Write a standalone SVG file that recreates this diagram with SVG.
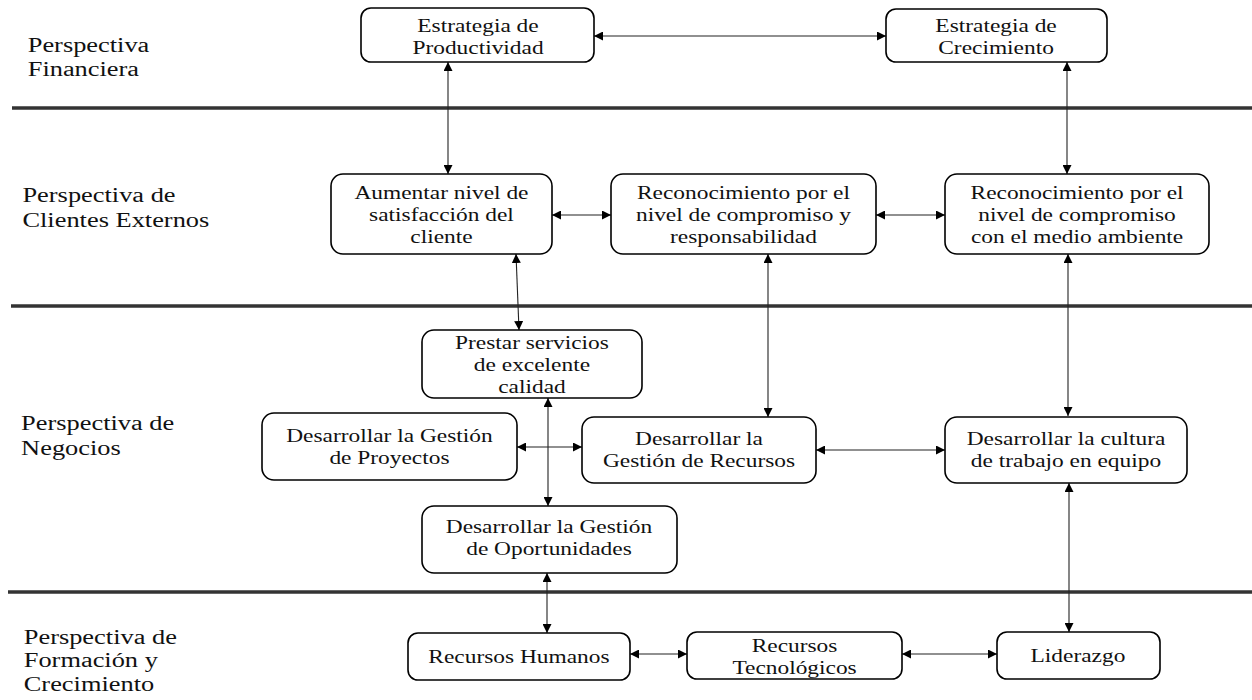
<svg xmlns="http://www.w3.org/2000/svg" width="1252" height="700" viewBox="0 0 1252 700">
<defs>
<marker id="ah" viewBox="0 0 10 10" refX="10" refY="5" markerWidth="9" markerHeight="9" markerUnits="userSpaceOnUse" orient="auto-start-reverse">
<path d="M0,0 L10,5 L0,10 z" fill="#000"/>
</marker>
<style>
.box{fill:#fff;stroke:#000;stroke-width:1.6}
.t{font-family:"Liberation Serif","Times New Roman",serif;font-size:18px;fill:#111;text-anchor:middle}
.lab{font-family:"Liberation Serif","Times New Roman",serif;font-size:20px;fill:#111}
.sep{stroke:#333;stroke-width:3.5}
.c{stroke:#222;stroke-width:1.1;fill:none;marker-start:url(#ah);marker-end:url(#ah)}
</style>
</defs>
<rect width="1252" height="700" fill="#fff"/>
<g id="separators">
<line class="sep" x1="12" y1="108" x2="1252" y2="108"/>
<line class="sep" x1="11" y1="306" x2="1252" y2="306"/>
<line class="sep" x1="8" y1="592" x2="1252" y2="592"/>
</g>
<g id="labels" transform="scale(1.32,1)">
<text class="lab" x="21"><tspan x="21" y="52">Perspectiva</tspan><tspan x="21" y="76">Financiera</tspan></text>
<text class="lab" x="17"><tspan x="17" y="202">Perspectiva de</tspan><tspan x="17" y="227">Clientes Externos</tspan></text>
<text class="lab" x="16"><tspan x="16" y="430">Perspectiva de</tspan><tspan x="16" y="455">Negocios</tspan></text>
<text class="lab" x="18"><tspan x="18" y="644">Perspectiva de</tspan><tspan x="18" y="667">Formación y</tspan><tspan x="18" y="691">Crecimiento</tspan></text>
</g>
<g id="connectors">
<line class="c" x1="594" y1="36" x2="886" y2="36"/>
<line class="c" x1="448" y1="62" x2="448" y2="174"/>
<line class="c" x1="1067" y1="62" x2="1067" y2="174"/>
<line class="c" x1="552" y1="215" x2="611" y2="215"/>
<line class="c" x1="876" y1="215" x2="945" y2="215"/>
<line class="c" x1="516" y1="254" x2="519" y2="330"/>
<line class="c" x1="768" y1="254" x2="768" y2="417"/>
<line class="c" x1="1068" y1="254" x2="1068" y2="416"/>
<line class="c" x1="548" y1="398" x2="548" y2="506"/>
<line class="c" x1="517" y1="447" x2="582" y2="447"/>
<line class="c" x1="816" y1="450" x2="945" y2="450"/>
<line class="c" x1="1069" y1="483" x2="1069" y2="632"/>
<line class="c" x1="547" y1="573" x2="547" y2="633"/>
<line class="c" x1="630" y1="654" x2="687" y2="654"/>
<line class="c" x1="902" y1="654" x2="997" y2="654"/>
</g>
<g id="n1"><rect class="box" x="361" y="8" width="233" height="54" rx="10"/>
<g transform="scale(1.3,1)"><text class="t"><tspan x="367.7" y="32">Estrategia de</tspan><tspan x="367.7" y="54">Productividad</tspan></text></g></g>
<g id="n2"><rect class="box" x="886" y="9" width="221" height="53" rx="10"/>
<g transform="scale(1.3,1)"><text class="t"><tspan x="766.2" y="32">Estrategia de</tspan><tspan x="766.2" y="54">Crecimiento</tspan></text></g></g>
<g id="n3"><rect class="box" x="331" y="174" width="221" height="80" rx="12"/>
<g transform="scale(1.3,1)"><text class="t"><tspan x="339.6" y="199">Aumentar nivel de</tspan><tspan x="339.6" y="221">satisfacción del</tspan><tspan x="339.6" y="243">cliente</tspan></text></g></g>
<g id="n4"><rect class="box" x="611" y="174" width="265" height="80" rx="12"/>
<g transform="scale(1.3,1)"><text class="t"><tspan x="571.9" y="199">Reconocimiento por el</tspan><tspan x="571.9" y="221">nivel de compromiso y</tspan><tspan x="571.9" y="243">responsabilidad</tspan></text></g></g>
<g id="n5"><rect class="box" x="945" y="174" width="264" height="80" rx="12"/>
<g transform="scale(1.3,1)"><text class="t"><tspan x="828.5" y="199">Reconocimiento por el</tspan><tspan x="828.5" y="221">nivel de compromiso</tspan><tspan x="828.5" y="243">con el medio ambiente</tspan></text></g></g>
<g id="n6"><rect class="box" x="422" y="330" width="220" height="68" rx="12"/>
<g transform="scale(1.3,1)"><text class="t"><tspan x="409.2" y="349">Prestar servicios</tspan><tspan x="409.2" y="371">de excelente</tspan><tspan x="409.2" y="393">calidad</tspan></text></g></g>
<g id="n7"><rect class="box" x="262" y="413" width="255" height="67" rx="12"/>
<g transform="scale(1.3,1)"><text class="t"><tspan x="299.6" y="442">Desarrollar la Gestión</tspan><tspan x="299.6" y="464">de Proyectos</tspan></text></g></g>
<g id="n8"><rect class="box" x="582" y="417" width="234" height="66" rx="12"/>
<g transform="scale(1.3,1)"><text class="t"><tspan x="537.7" y="445">Desarrollar la</tspan><tspan x="537.7" y="467">Gestión de Recursos</tspan></text></g></g>
<g id="n9"><rect class="box" x="422" y="506" width="255" height="67" rx="12"/>
<g transform="scale(1.3,1)"><text class="t"><tspan x="422.3" y="533">Desarrollar la Gestión</tspan><tspan x="422.3" y="555">de Oportunidades</tspan></text></g></g>
<g id="n10"><rect class="box" x="945" y="417" width="242" height="66" rx="12"/>
<g transform="scale(1.3,1)"><text class="t"><tspan x="820" y="445">Desarrollar la cultura</tspan><tspan x="820" y="467">de trabajo en equipo</tspan></text></g></g>
<g id="n11"><rect class="box" x="408" y="633" width="222" height="47" rx="10"/>
<g transform="scale(1.3,1)"><text class="t" x="399.2" y="663">Recursos Humanos</text></g></g>
<g id="n12"><rect class="box" x="687" y="632" width="215" height="47" rx="10"/>
<g transform="scale(1.3,1)"><text class="t"><tspan x="611.2" y="652">Recursos</tspan><tspan x="611.2" y="674">Tecnológicos</tspan></text></g></g>
<g id="n13"><rect class="box" x="997" y="632" width="163" height="47" rx="10"/>
<g transform="scale(1.3,1)"><text class="t" x="829.2" y="662">Liderazgo</text></g></g>
</svg>
